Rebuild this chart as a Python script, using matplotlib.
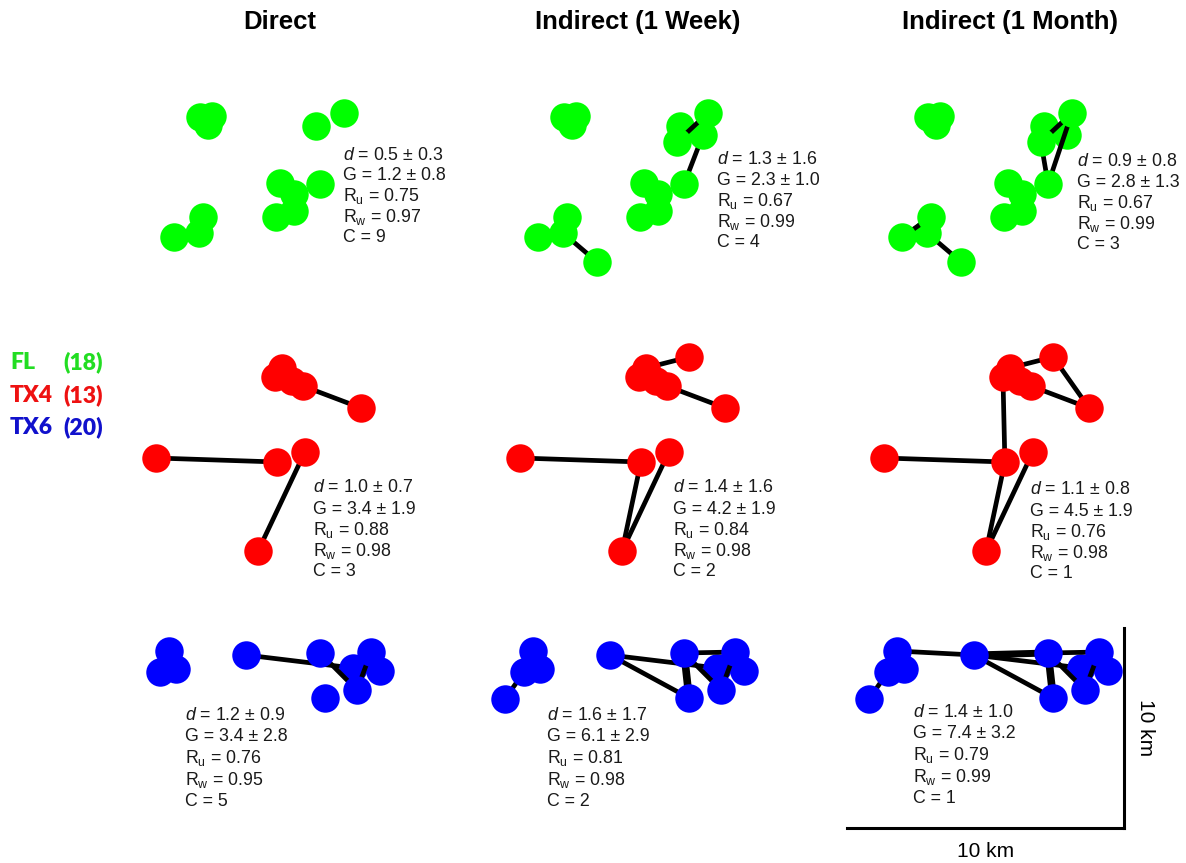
import numpy as np
import matplotlib.pyplot as plt

plt.rcParams['font.family'] = ['Liberation Sans', 'DejaVu Sans']
plt.rcParams['mathtext.fontset'] = 'custom'
plt.rcParams['mathtext.rm'] = 'Liberation Sans'
plt.rcParams['mathtext.it'] = 'Liberation Sans:italic'

W, H = 1186, 863

columns = ['Direct', 'Indirect (1 Week)', 'Indirect (1 Month)']
populations = ['FL', 'TX4', 'TX6']
n_animals = [18, 13, 20]
node_colors = ['#00ff00', '#ff0000', '#0000ff']
label_colors = ['#22dd22', '#ee1111', '#1111cc']

# home-range centres (km) for each population
fl_x = [2.92, 3.36, 3.21, 7.11, 8.12, 7.00, 7.94, 5.81, 6.32, 7.26, 5.67, 6.32, 1.99, 3.03, 2.89, 4.12]
fl_y = [8.65, 8.70, 8.25, 8.20, 8.85, 7.40, 7.75, 5.35, 4.80, 5.30, 3.65, 3.95, 2.65, 3.65, 2.85, 1.40]
tx4_x = [5.88, 5.63, 6.25, 6.64, 7.44, 8.74, 1.34, 5.70, 6.71, 5.02]
tx4_y = [9.35, 8.90, 8.70, 8.45, 9.90, 7.35, 4.85, 4.65, 5.15, 0.20]
tx6_x = [1.81, 1.48, 2.06, 0.79, 4.58, 7.26, 9.10, 9.42, 8.45, 8.59, 7.44]
tx6_y = [8.85, 7.80, 7.95, 6.45, 8.65, 8.75, 8.80, 7.85, 8.00, 6.90, 6.50]

# nodes drawn underneath the edges
fl_low = [3, 6, 14]
tx4_low = []
tx6_low = [7, 8]

# nodes present in each network (Direct, 1 Week, 1 Month)
fl_nodes = [[i for i in range(16) if i not in (5, 6, 15)], list(range(16)), list(range(16))]
tx4_nodes = [[i for i in range(10) if i != 4], list(range(10)), list(range(10))]
tx6_nodes = [[i for i in range(11) if i != 3], list(range(11)), list(range(11))]

# edges: (node a, node b, line width)
fl_edges = [
    [],
    [(5, 4, 3.4), (9, 6, 3.4), (14, 15, 3.4)],
    [(5, 4, 3.4), (9, 5, 3.4), (9, 4, 3.4), (14, 15, 3.4), (12, 13, 3.4)],
]
tx4_edges = [
    [(3, 5, 3.4), (6, 7, 3.4), (9, 8, 3.4)],
    [(0, 4, 3.4), (3, 5, 3.4), (6, 7, 3.4), (9, 7, 3.4), (9, 8, 3.4)],
    [(0, 4, 3.4), (4, 5, 3.4), (3, 5, 3.4), (1, 7, 3.4), (6, 7, 3.4), (9, 7, 3.4), (9, 8, 3.4)],
]
tx6_edges = [
    [(4, 8, 3.4), (5, 9, 3.4), (6, 9, 3.4)],
    [(3, 1, 3.4), (4, 8, 3.4), (4, 10, 3.4), (5, 10, 5.5), (5, 6, 3.4), (5, 9, 3.4), (6, 9, 3.4)],
    [(3, 1, 3.4), (0, 4, 3.4), (4, 5, 5.0), (4, 8, 3.4), (4, 10, 3.4), (5, 6, 3.4),
     (5, 10, 5.5), (5, 9, 3.4), (6, 9, 3.4)],
]

# network statistics per population (rows) and network type (columns)
d_mean = [[0.5, 1.3, 0.9], [1.0, 1.4, 1.1], [1.2, 1.6, 1.4]]
d_sd = [[0.3, 1.6, 0.8], [0.7, 1.6, 0.8], [0.9, 1.7, 1.0]]
g_mean = [[1.2, 2.3, 2.8], [3.4, 4.2, 4.5], [3.4, 6.1, 7.4]]
g_sd = [[0.8, 1.0, 1.3], [1.9, 1.9, 1.9], [2.8, 2.9, 3.2]]
r_u = [[0.75, 0.67, 0.67], [0.88, 0.84, 0.76], [0.76, 0.81, 0.79]]
r_w = [[0.97, 0.99, 0.99], [0.98, 0.98, 0.98], [0.95, 0.98, 0.99]]
n_comp = [[9, 4, 3], [3, 2, 1], [5, 2, 1]]

scale_km = 10

pop_x = [fl_x, tx4_x, tx6_x]
pop_y = [fl_y, tx4_y, tx6_y]
pop_low = [fl_low, tx4_low, tx6_low]
pop_nodes = [fl_nodes, tx4_nodes, tx6_nodes]
pop_edges = [fl_edges, tx4_edges, tx6_edges]

# panel layout in pixels
col_left = [119, 483, 847]
row_top = [90, 355, 628]
panel_w, panel_h = 277, 200

# where the statistics block sits inside each panel (km)
stat_x = [[8.09, 8.45, 8.30], [7.00, 6.86, 6.61], [2.38, 2.31, 2.38]]
stat_y = [[6.75, 6.50, 6.40], [3.35, 3.35, 3.25], [5.65, 5.65, 5.80]]
stat_gap = [1.03, 1.05, 1.08]

fig = plt.figure(figsize=(W / 100, H / 100), dpi=100)

for r in range(3):
    xs = np.array(pop_x[r])
    ys = np.array(pop_y[r])
    for c in range(3):
        ax = fig.add_axes([col_left[c] / W, 1 - (row_top[r] + panel_h) / H,
                           panel_w / W, panel_h / H])
        ax.set_xlim(0, scale_km)
        ax.set_ylim(0, scale_km)
        ax.axis('off')

        shown = pop_nodes[r][c]
        low = [i for i in shown if i in pop_low[r]]
        high = [i for i in shown if i not in pop_low[r]]

        for a, b, w in pop_edges[r][c]:
            # edges into a low node sit under everything
            z = 0.5 if (a in pop_low[r] or b in pop_low[r]) else 2
            ax.plot([xs[a], xs[b]], [ys[a], ys[b]], color='black', lw=w,
                    solid_capstyle='butt', zorder=z, clip_on=False)

        ax.scatter(xs[low], ys[low], s=420, color=node_colors[r],
                   linewidths=0, zorder=1, clip_on=False)
        ax.scatter(xs[high], ys[high], s=420, color=node_colors[r],
                   linewidths=0, zorder=3, clip_on=False)

        lines = [
            f'$d$ = {d_mean[r][c]:.1f} ± {d_sd[r][c]:.1f}',
            f'G = {g_mean[r][c]:.1f} ± {g_sd[r][c]:.1f}',
            f'R$_\\mathrm{{u}}$ = {r_u[r][c]:.2f}',
            f'R$_\\mathrm{{w}}$ = {r_w[r][c]:.2f}',
            f'C = {n_comp[r][c]}',
        ]
        for k, s in enumerate(lines):
            ax.text(stat_x[r][c], stat_y[r][c] - k * stat_gap[r], s,
                    fontsize=12.8, color='#1a1a1a', ha='left', va='center',
                    zorder=5, clip_on=False)

        if r == 2 and c == 2:
            # 10 km scale bar
            ax.plot([0, scale_km], [0, 0], color='black', lw=2.2, clip_on=False)
            ax.plot([scale_km, scale_km], [0, scale_km], color='black', lw=2.2,
                    clip_on=False)
            ax.text(scale_km / 2, -1.15, f'{scale_km} km', fontsize=15,
                    ha='center', va='center', clip_on=False)
            ax.text(scale_km + 0.78, scale_km / 2, f'{scale_km} km', fontsize=15,
                    rotation=-90, ha='center', va='center', clip_on=False)

title_x = [280, 638, 1010]
for c in range(3):
    fig.text(title_x[c] / W, 1 - 22 / H, columns[c], fontsize=18.5,
             fontweight='bold', ha='center', va='center')

legend_y = [362, 395, 427]
for r in range(3):
    fig.text(10 / W, 1 - legend_y[r] / H, populations[r], fontsize=16.5,
             fontweight='heavy', family=['Lato', 'DejaVu Sans'],
             color=label_colors[r], ha='left', va='center')
    fig.text(63 / W, 1 - legend_y[r] / H, f'({n_animals[r]})', fontsize=16.5,
             fontweight='heavy', family=['Lato', 'DejaVu Sans'],
             color=label_colors[r], ha='left', va='center')

fig.savefig('out.png', dpi=100, facecolor='white')
